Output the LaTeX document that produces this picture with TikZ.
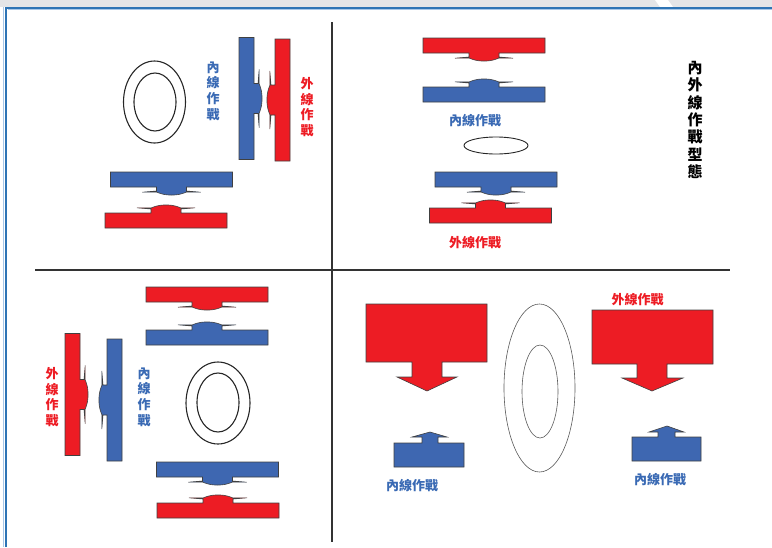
\documentclass[tikz,border=0pt]{standalone}
\usepackage{fontspec}
\newfontfamily\cjk{Noto Sans CJK TC}
\definecolor{warred}{HTML}{ED1C24}
\definecolor{warblue}{HTML}{3E67B1}
\definecolor{txtblue}{HTML}{3A6AB4}
\definecolor{bandgray}{HTML}{E4E5E7}
\definecolor{frameblue}{HTML}{2E74B5}
\definecolor{framelight}{HTML}{A9C8E8}
\tikzset{
  pics/pusher/.style={code={
    \filldraw[fill=#1, draw=black!75, line width=0.6pt]
      (-61,-15) -- (61,-15) -- (61,0) -- (15,0) -- (15,4) -- (29,5.2) -- (15,5)
      .. controls (8,8) and (4,8) .. (0,8) .. controls (-4,8) and (-8,8) .. (-15,5)
      -- (-29,5.2) -- (-15,4) -- (-15,0) -- (-61,0) -- cycle;
  }},
  vlabel/.style={inner sep=0pt, align=center, font=\cjk\bfseries\fontsize{13}{15.6}\selectfont},
  hlabel/.style={inner sep=0pt, font=\cjk\bfseries\fontsize{13}{15}\selectfont},
  ring/.style={draw=black!85, line width=1.1pt},
  divider/.style={draw=black!80, line width=1.5pt}
}
\begin{document}
\begin{tikzpicture}[x=1pt, y=-1pt]
\useasboundingbox (0,0) rectangle (772,547);
% frame
\fill[bandgray] (0,0) rectangle (772,7);
\fill[white] (655,0) -- (668,0) -- (673,7) -- (660,7) -- cycle;
\draw[framelight, line width=1pt] (3.8,547) -- (3.8,7);
\draw[framelight, line width=1pt] (7.5,9.8) -- (772,9.8);
\draw[frameblue, line width=2.4pt] (6,547) -- (6,7.8) -- (772,7.8);
\draw[divider] (332,22) -- (332,542);
\draw[divider] (35,270) -- (730,270);

% top left
\draw[ring] (154.5,102) ellipse (31 and 41);
\draw[ring] (155,102) ellipse (21 and 29);
\pic[rotate=90] at (254,98.5) {pusher=warblue};
\pic[rotate=-90] at (275,100) {pusher=warred};
\pic at (171.5,187) {pusher=warblue};
\pic[yscale=-1] at (166,213) {pusher=warred};
\node[vlabel, text=txtblue] (inA) at (213,91) {內\\線\\作\\戰};
\node[vlabel, text=warred] (outA) at (307,107) {外\\線\\作\\戰};

% top right
\pic at (484,53) {pusher=warred};
\pic[yscale=-1] at (484,87) {pusher=warblue};
\node[hlabel, text=txtblue] (inB) at (475,121) {內線作戰};
\draw[black!85, line width=0.9pt] (496,145.5) ellipse (32 and 8.5);
\pic at (496,187) {pusher=warblue};
\pic[yscale=-1] at (490.5,208) {pusher=warred};
\node[hlabel, text=warred] (outB) at (475,243) {外線作戰};
\node[inner sep=0pt, align=center, font=\cjk\bfseries\fontsize{15}{17.3}\selectfont] (title) at (695,120) {內\\外\\線\\作\\戰\\型\\態};

% bottom left
\pic at (207,302) {pusher=warred};
\pic[yscale=-1] at (207,330) {pusher=warblue};
\pic[rotate=90] at (80,394.5) {pusher=warred};
\pic[rotate=-90] at (107,400) {pusher=warblue};
\node[vlabel, text=warred] (outC) at (52,397) {外\\線\\作\\戰};
\node[vlabel, text=txtblue] (inC) at (144,397) {內\\線\\作\\戰};
\draw[ring] (218,403) ellipse (32 and 41);
\draw[ring] (218,402.5) ellipse (21 and 29.5);
\pic at (217.5,477) {pusher=warblue};
\pic[yscale=-1] at (218,503) {pusher=warred};

% bottom right
\filldraw[fill=warred, draw=black!75, line width=0.6pt] (366,304) -- (487,304) -- (487,362) -- (442,362) -- (442,377) -- (457,377) -- (427,391) -- (397,377) -- (412,377) -- (412,362) -- (366,362) -- cycle;
\filldraw[fill=warred, draw=black!75, line width=0.6pt] (592,310) -- (713,310) -- (713,364) -- (667,364) -- (667,378) -- (683,378) -- (652,391) -- (622,378) -- (637,378) -- (637,364) -- (592,364) -- cycle;
\filldraw[fill=warblue, draw=black!75, line width=0.6pt] (394,467) -- (394,443) -- (422,443) -- (422,437) -- (412,437) -- (430,432) -- (447,437) -- (438,437) -- (438,443) -- (464,443) -- (464,467) -- cycle;
\filldraw[fill=warblue, draw=black!75, line width=0.6pt] (632,461) -- (632,437) -- (658,437) -- (658,432) -- (649,432) -- (667,426) -- (684,432) -- (675,432) -- (675,437) -- (701,437) -- (701,461) -- cycle;
\draw[black!65, line width=0.6pt] (539.5,388) ellipse (35.5 and 84);
\draw[black!65, line width=0.6pt] (540,391.5) ellipse (18 and 46.5);
\node[hlabel, text=warred] (outD) at (637.5,300) {外線作戰};
\node[hlabel, text=txtblue] (inD) at (412,486) {內線作戰};
\node[hlabel, text=txtblue] (inE) at (660,480) {內線作戰};
\end{tikzpicture}
\end{document}
